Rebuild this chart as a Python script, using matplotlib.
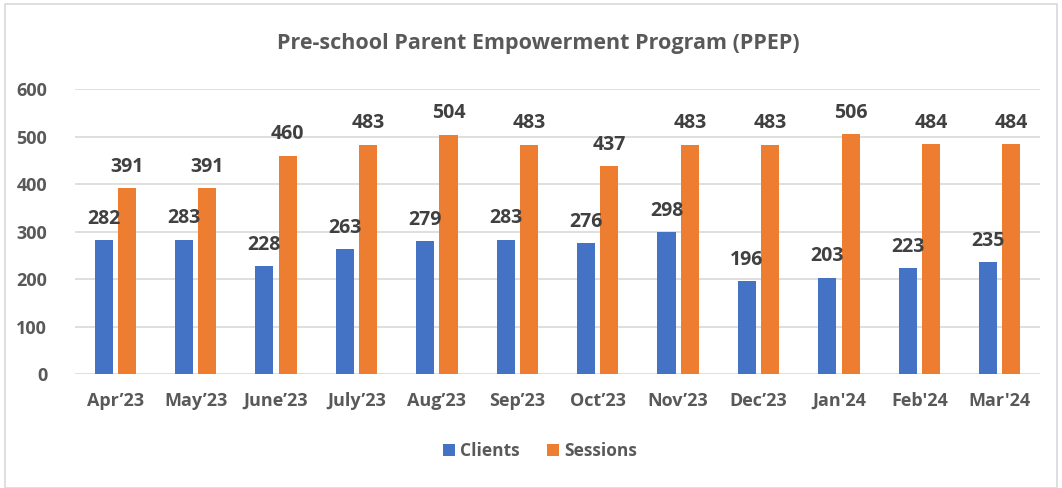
import matplotlib.pyplot as plt
import numpy as np
from matplotlib.patches import Rectangle

# Datos
months = ["Apr\u201923", "May\u201923", "June\u201923", "July\u201923", "Aug\u201923", "Sep\u201923",
          "Oct\u201923", "Nov\u201923", "Dec\u201923", "Jan'24", "Feb'24", "Mar'24"]
clients = [282, 283, 228, 263, 279, 283, 276, 298, 196, 203, 223, 235]
sessions = [391, 391, 460, 483, 504, 483, 437, 483, 483, 506, 484, 484]

# Colores
hex_clients = '#4472C4'
hex_sessions = '#ED7D31'
hex_text = '#595959'
hex_label = '#404040'
hex_grid = '#D9D9D9'

plt.rcParams['font.family'] = ['Open Sans', 'DejaVu Sans']

fig = plt.figure(figsize=(10.62, 4.88), dpi=100)
ax = fig.add_axes([75 / 1062, 1 - 374 / 488, 965 / 1062, 285 / 488])

x = np.arange(len(months))
w = 0.225
off = 0.145
b1 = ax.bar(x - off, clients, w, color=hex_clients, label='Clients', zorder=3)
b2 = ax.bar(x + off, sessions, w, color=hex_sessions, label='Sessions', zorder=3)

for bars, vals in [(b1, clients), (b2, sessions)]:
    for rect, v in zip(bars, vals):
        ax.annotate(str(v), (rect.get_x() + rect.get_width() / 2, v), xytext=(0, 8),
                    textcoords='offset points', ha='center', va='bottom',
                    fontsize=14, fontweight='bold', color=hex_label)

ax.set_xlim(-0.5, len(months) - 0.5)
ax.set_ylim(0, 600)
ax.set_yticks(range(0, 601, 100))
ax.yaxis.grid(True, color=hex_grid, linewidth=1.2, zorder=0)
ax.set_axisbelow(True)
for s in ax.spines.values():
    s.set_visible(False)
ax.tick_params(length=0)
ax.tick_params(axis='y', pad=20, labelsize=13, labelcolor=hex_text)
ax.tick_params(axis='x', pad=13, labelsize=13, labelcolor=hex_text)
ax.set_xticks(x)
ax.set_xticklabels(months)
for t in ax.get_xticklabels() + ax.get_yticklabels():
    t.set_fontweight('bold')

fig.text(538 / 1062, 1 - 43 / 488, "Pre-school Parent Empowerment Program (PPEP)",
         ha='center', va='center', fontsize=15.5, fontweight='bold', color=hex_text)

leg = fig.legend(handles=[b1, b2], loc='center', bbox_to_anchor=(540 / 1062, 1 - 451 / 488),
                 ncol=2, frameon=False, fontsize=12.5, handlelength=0.7, handleheight=0.7,
                 handletextpad=0.3, columnspacing=1.6)
for t in leg.get_texts():
    t.set_fontweight('bold')
    t.set_color(hex_text)

# Borde
fig.patches.append(Rectangle((5 / 1062, 0), 1052 / 1062, 1 - 4 / 488, transform=fig.transFigure,
                             fill=False, edgecolor='#D9D9D9', linewidth=1.2))

plt.savefig("out.png", dpi=100)
